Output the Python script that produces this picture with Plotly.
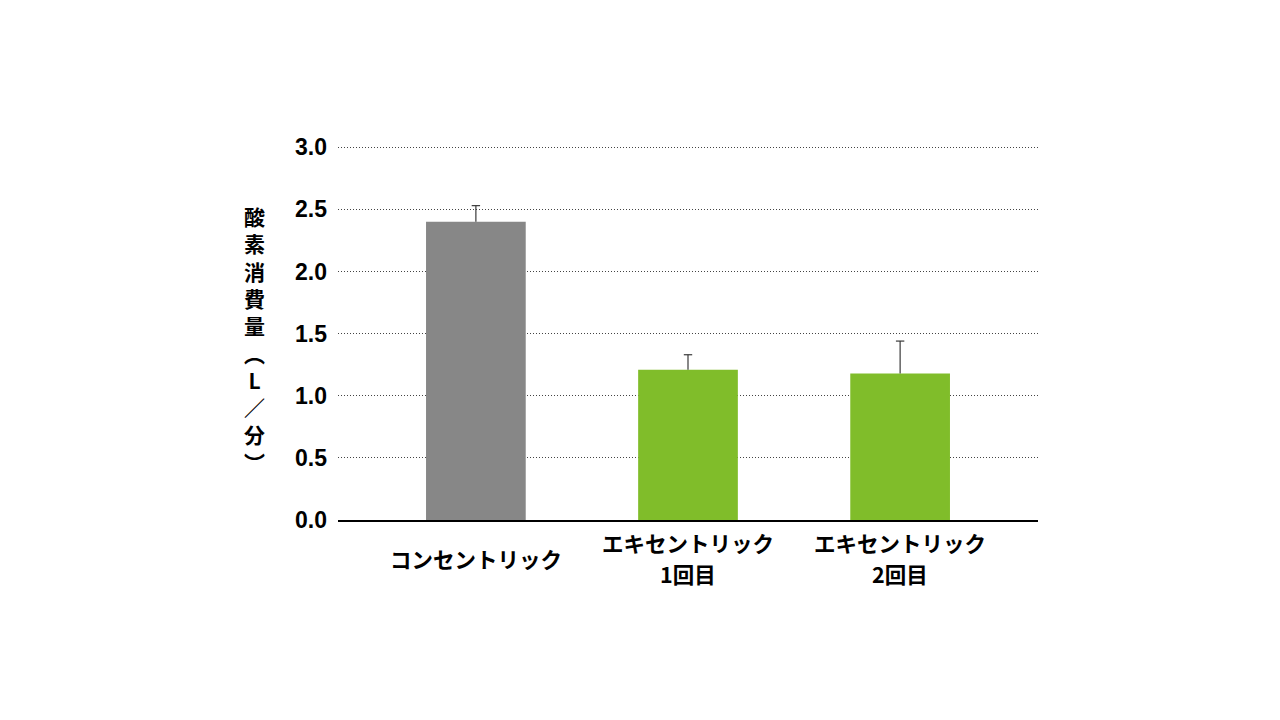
import plotly.graph_objects as go

# === データ ===
categories = ["コンセントリック", "エキセントリック<br>1回目", "エキセントリック<br>2回目"]
oxygen_uptake = [2.40, 1.21, 1.18]
error_upper = [0.13, 0.12, 0.26]
bar_colors = ["#878787", "#80bd2a", "#80bd2a"]
y_tickvals = [0.0, 0.5, 1.0, 1.5, 2.0, 2.5, 3.0]
y_title_chars = ["酸", "素", "消", "費", "量", "︵", "L", "／", "分", "︶"]

num_font = "Liberation Sans, Arial, sans-serif"
jp_font = "Noto Sans CJK JP, sans-serif"

x_pos = list(range(len(categories)))
err_tops = [v + e for v, e in zip(oxygen_uptake, error_upper)]

fig = go.Figure()

fig.add_trace(
    go.Bar(
        x=x_pos,
        y=oxygen_uptake,
        width=0.47,
        marker=dict(color=bar_colors, line=dict(width=0)),
        error_y=dict(
            type="data",
            symmetric=False,
            array=error_upper,
            arrayminus=[0] * len(error_upper),
            color="#3a3a3a",
            thickness=1.2,
            width=0,
        ),
        showlegend=False,
        hoverinfo="skip",
    )
)

# エラーバー上端のキャップ
fig.add_trace(
    go.Scatter(
        x=x_pos,
        y=err_tops,
        mode="markers",
        marker=dict(symbol="line-ew", size=6, line=dict(width=1.2, color="#3a3a3a")),
        showlegend=False,
        hoverinfo="skip",
    )
)

# カテゴリ名（行ごとに注釈で配置、縦方向は中央揃え）
line_gap = 31
for i, cat in enumerate(categories):
    lines = cat.split("<br>")
    for j, line in enumerate(lines):
        offset = (j - (len(lines) - 1) / 2) * line_gap
        fig.add_annotation(
            x=i,
            y=0,
            xref="x",
            yref="paper",
            yshift=-(38 + offset),
            text=f"<b>{line}</b>",
            showarrow=False,
            xanchor="center",
            yanchor="middle",
            font=dict(family=jp_font, size=21.5, color="#000000"),
        )

# 縦書きの軸タイトル
fig.add_annotation(
    x=-0.1186,
    y=0.485,
    xref="paper",
    yref="paper",
    text="<b>" + "<br>".join(y_title_chars) + "</b>",
    showarrow=False,
    xanchor="center",
    yanchor="middle",
    font=dict(family=jp_font, size=21, color="#000000"),
)

fig.update_xaxes(
    range=[-0.65, 2.65],
    showticklabels=False,
    showgrid=False,
    showline=True,
    linecolor="#000000",
    linewidth=1.5,
    ticks="",
    zeroline=False,
)

fig.update_yaxes(
    range=[0, 3.01],
    tickvals=y_tickvals,
    tickformat=".1f",
    tickfont=dict(family=num_font, size=23, color="#000000", weight="bold"),
    ticklabelstandoff=10,
    showgrid=True,
    gridcolor="#444444",
    griddash="1px,2px",
    gridwidth=1,
    showline=False,
    zeroline=False,
    ticks="",
)

# ページ余白(8px)を考慮した余白設定
fig.update_layout(
    width=1280,
    height=720,
    paper_bgcolor="#ffffff",
    plot_bgcolor="#ffffff",
    margin=dict(l=330, r=250, t=138, b=208),
    bargap=0.5,
)

fig.write_html("out.html")
